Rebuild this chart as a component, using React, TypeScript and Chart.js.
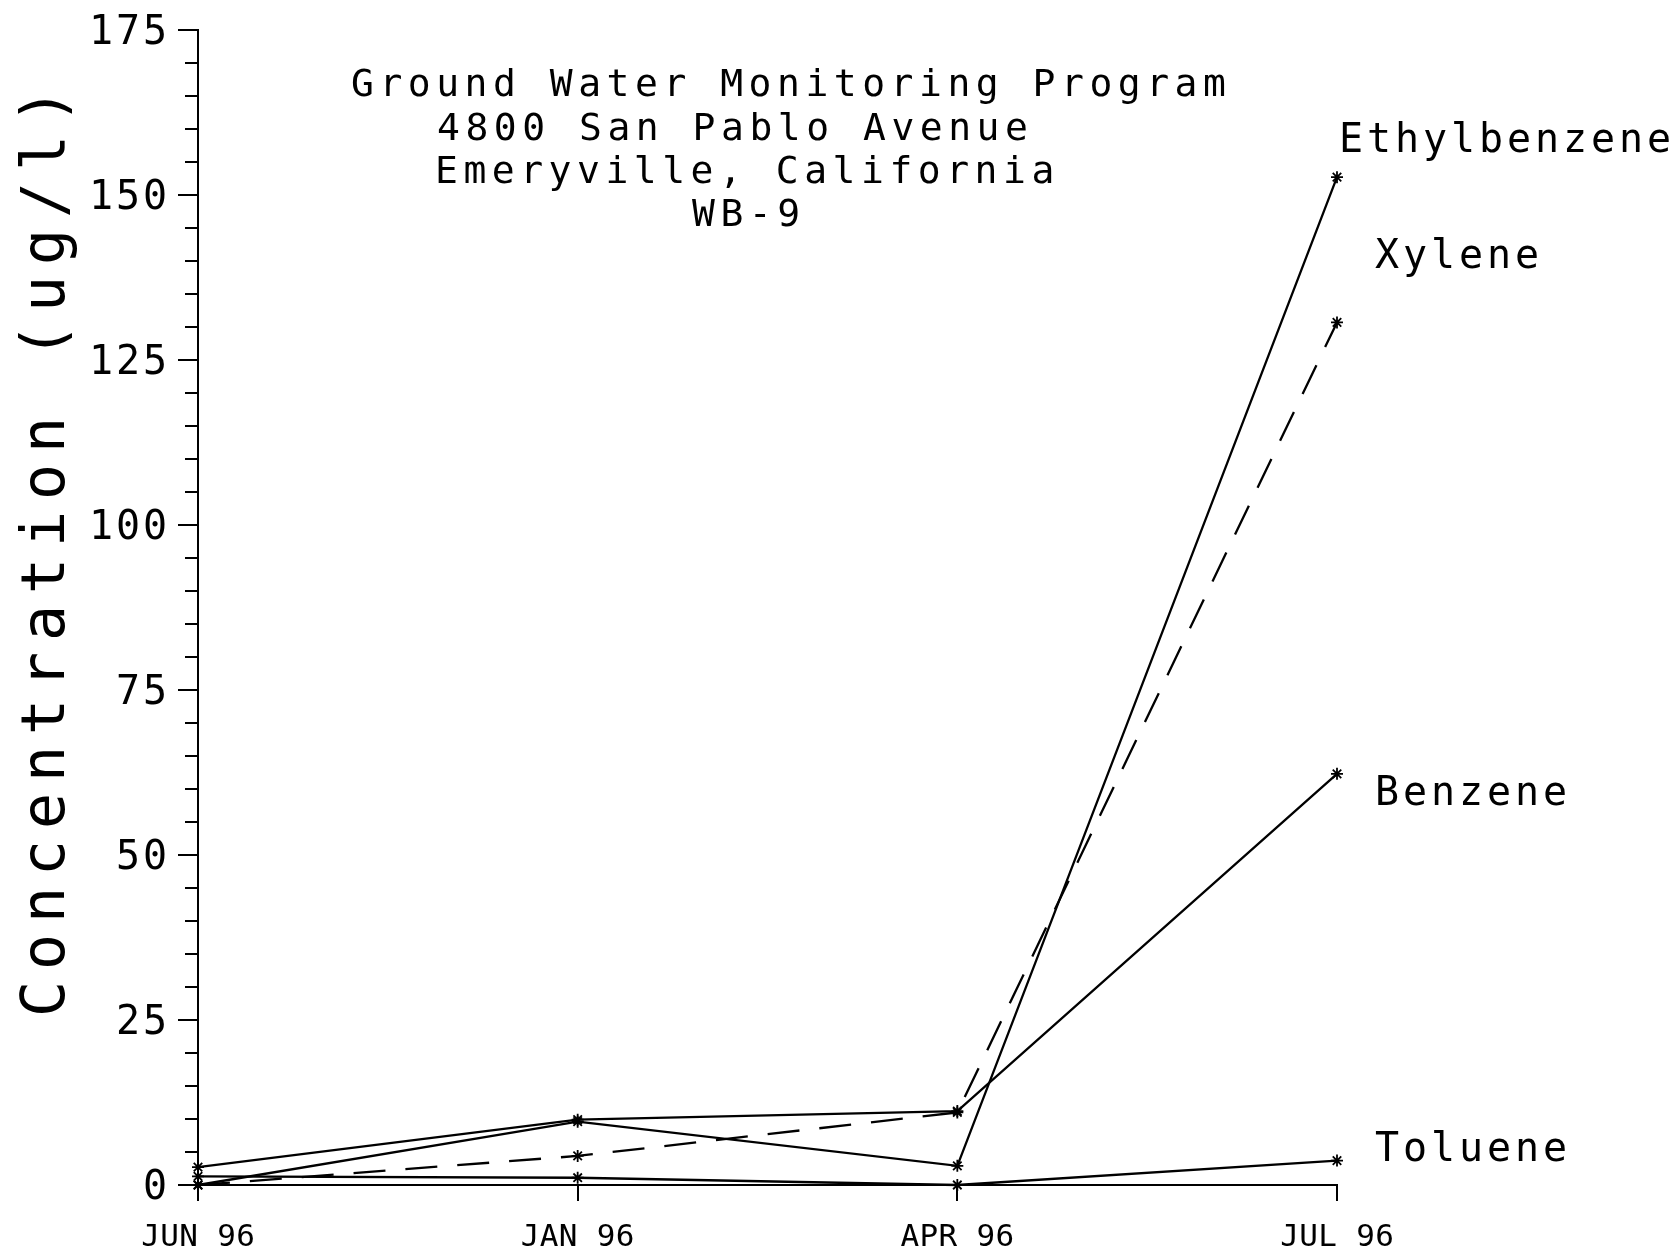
import { useEffect, useRef } from 'react';
import { Chart, registerables } from 'chart.js';

Chart.register(...registerables);

// ---------- data ----------
const categories = ['JUN 96', 'JAN 96', 'APR 96', 'JUL 96'];
const benzene = [2.7, 9.9, 11.2, 62.3];
const toluene = [1.3, 1.1, 0, 3.7];
const ethylbenzene = [0, 9.6, 2.9, 152.7];
const xylene = [0, 4.4, 11.0, 130.7];
const seriesNames = ['Benzene', 'Toluene', 'Ethylbenzene', 'Xylene'];
const yMax = 175;
const yMinorStep = 5;
const yMajorStep = 25;
const yTickLabels = ['0', '25', '50', '75', '100', '125', '150', '175'];
const titleLines = [
  'Ground Water Monitoring Program',
  '4800 San Pablo Avenue',
  'Emeryville, California',
  'WB-9',
];
const yAxisTitle = 'Concentration (ug/l)';

// ---------- layout / style ----------
const FONT = '"DejaVu Sans Mono", "Liberation Mono", monospace';
const titleLayout = [
  { left: 351, baseline: 96 },
  { left: 437, baseline: 140 },
  { left: 435, baseline: 183 },
  { left: 692, baseline: 226 },
];
// label offsets from the series' last point (pixels)
const labelOffsets: Record<string, { dx: number; dy: number }> = {
  Ethylbenzene: { dx: 2, dy: -25 },
  Xylene: { dx: 38, dy: -54 },
  Benzene: { dx: 38, dy: 31 },
  Toluene: { dx: 38, dy: 0 },
};

function drawPitched(ctx: CanvasRenderingContext2D, text: string, x: number, y: number, size: number, pitch: number, align: 'left' | 'right' | 'center' = 'left') {
  ctx.font = `${size}px ${FONT}`;
  (ctx as any).letterSpacing = '0px';
  const adv = ctx.measureText('0').width;
  const sp = pitch - adv;
  const n = [...text].length;
  const w = n * adv + (n - 1) * sp;
  let x0 = x;
  if (align === 'right') x0 = x - w;
  if (align === 'center') x0 = x - w / 2;
  (ctx as any).letterSpacing = `${sp}px`;
  ctx.textAlign = 'left';
  ctx.textBaseline = 'alphabetic';
  ctx.fillText(text, x0, y);
  (ctx as any).letterSpacing = '0px';
}

const decor = {
  id: 'decor',
  afterDraw(chart: any) {
    const ctx: CanvasRenderingContext2D = chart.ctx;
    const xs = chart.scales.x;
    const ys = chart.scales.y;
    const area = chart.chartArea;
    ctx.save();
    ctx.strokeStyle = '#000';
    ctx.fillStyle = '#000';
    ctx.lineWidth = 2;
    ctx.lineCap = 'butt';

    // y ticks
    for (let v = 0; v <= yMax; v += yMinorStep) {
      const y = Math.round(ys.getPixelForValue(v));
      const len = v % yMajorStep === 0 ? 20 : 13;
      ctx.beginPath();
      ctx.moveTo(area.left - len, y);
      ctx.lineTo(area.left, y);
      ctx.stroke();
    }
    // x ticks
    categories.forEach((_, i) => {
      const x = Math.round(xs.getPixelForValue(i));
      ctx.beginPath();
      ctx.moveTo(x, area.bottom);
      ctx.lineTo(x, area.bottom + 16);
      ctx.stroke();
    });

    // y tick labels
    yTickLabels.forEach((t) => {
      const y = ys.getPixelForValue(Number(t));
      drawPitched(ctx, t, 167, y + 14, 40, 27, 'right');
    });
    // x tick labels
    categories.forEach((c, i) => {
      const x = xs.getPixelForValue(i);
      drawPitched(ctx, c, x, 1246, 31, 19, 'center');
    });

    // title
    titleLines.forEach((line, i) => {
      drawPitched(ctx, line, titleLayout[i].left, titleLayout[i].baseline, 38, 28.4, 'left');
    });

    // series labels
    chart.data.datasets.forEach((ds: any, di: number) => {
      const meta = chart.getDatasetMeta(di);
      const last = meta.data[meta.data.length - 1];
      const off = labelOffsets[ds.label];
      drawPitched(ctx, ds.label, last.x + off.dx, last.y + off.dy, 40, 28, 'left');
    });

    // y axis title
    ctx.save();
    ctx.translate(64, 1017);
    ctx.rotate(-Math.PI / 2);
    drawPitched(ctx, yAxisTitle, 0, 0, 60, 47, 'left');
    ctx.restore();

    ctx.restore();
  },
};

function mk(label: string, data: number[], dash: number[]) {
  return {
    label,
    data,
    borderColor: '#000',
    backgroundColor: '#000',
    borderWidth: 2.3,
    borderDash: dash,
    pointStyle: 'star',
    pointRadius: 6,
    pointBorderWidth: 1.8,
    pointBorderColor: '#000',
    pointBackgroundColor: '#000',
    tension: 0,
    fill: false,
    clip: false,
  };
}

export default function App() {
  const ref = useRef<HTMLCanvasElement>(null);
  useEffect(() => {
    const canvas = ref.current!;
    const seriesData: Record<string, number[]> = {
      Benzene: benzene,
      Toluene: toluene,
      Ethylbenzene: ethylbenzene,
      Xylene: xylene,
    };
    const chart = new Chart(canvas, {
      type: 'line',
      data: {
        labels: categories,
        datasets: seriesNames.map((n) => mk(n, seriesData[n], n === 'Xylene' ? [32, 20] : [])) as any,
      },
      options: {
        responsive: false,
        animation: false,
        devicePixelRatio: 1,
        layout: { padding: { top: 30, right: 343, bottom: 0, left: 0 } },
        plugins: {
          legend: { display: false },
          tooltip: { enabled: false },
          title: { display: false },
        },
        scales: {
          x: {
            type: 'category',
            offset: false,
            grid: { display: false },
            border: { display: true, color: '#000', width: 2 },
            ticks: { display: false },
            afterFit: (s: any) => {
              s.height = 65;
            },
          },
          y: {
            min: 0,
            max: yMax,
            grid: { display: false },
            border: { display: true, color: '#000', width: 2 },
            ticks: { display: false, stepSize: yMinorStep },
            afterFit: (s: any) => {
              s.width = 198;
            },
          },
        },
      } as any,
      plugins: [decor],
    });
    return () => chart.destroy();
  }, []);
  return (
    <div style={{ position: 'absolute', left: 0, top: 0, width: 1680, height: 1250, background: '#fff' }}>
      <canvas ref={ref} width={1680} height={1250} style={{ display: 'block' }} />
    </div>
  );
}
